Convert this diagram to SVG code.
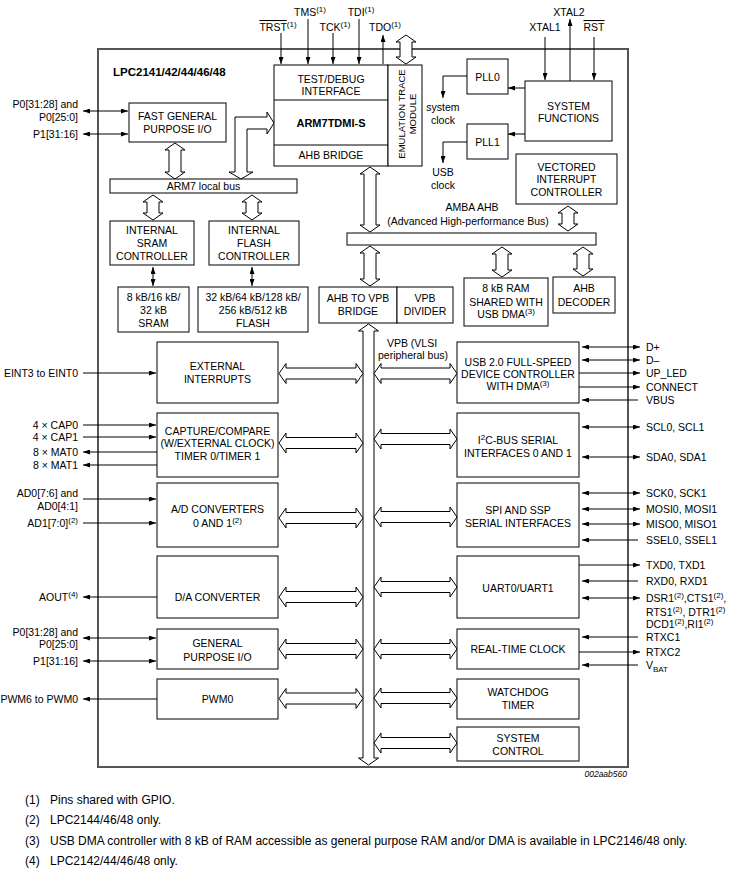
<svg xmlns="http://www.w3.org/2000/svg" xmlns:xlink="http://www.w3.org/1999/xlink" width="730" height="873" viewBox="0 0 730 873">
<style>
text{font-family:"Liberation Sans",Arial,Helvetica,sans-serif;font-size:10.5px;fill:#000}
.m{text-anchor:middle}
.e{text-anchor:end}
.b{font-weight:bold}
.box{fill:#fff;stroke:#000;stroke-width:1}
.bus{fill:#fff;stroke:#000;stroke-width:1}
.w{fill:none;stroke:#000;stroke-width:1}
.ol{text-decoration:overline}
.sup{font-size:8px}
.fn{font-size:12px}
</style>
<defs>
<marker id="a" viewBox="0 0 7 5" refX="7" refY="2.5" markerWidth="7" markerHeight="5" markerUnits="userSpaceOnUse" orient="auto-start-reverse"><path d="M0,0 L7,2.5 L0,5 z" fill="#000"/></marker>
<polygon id="hl" class="bus" points="279,0 286,-10 286,-5.5 356,-5.5 356,-10 363,0 356,10 356,5.5 286,5.5 286,10"/>
<polygon id="hr" class="bus" points="374,0 381,-10 381,-5.5 450,-5.5 450,-10 457,0 450,10 450,5.5 381,5.5 381,10"/>
</defs>
<rect width="730" height="873" fill="#fff"/>

<g id="chip">
<rect x="98" y="49" width="530" height="718" fill="none" stroke="#555" stroke-width="2"/>
<text x="113" y="76" class="b" style="font-size:11.5px">LPC2141/42/44/46/48</text>
</g>

<g id="connectors">
<!-- top pins -->
<line class="w" x1="281" y1="33" x2="281" y2="64" marker-end="url(#a)"/>
<line class="w" x1="308" y1="19" x2="308" y2="64" marker-end="url(#a)"/>
<line class="w" x1="333" y1="33" x2="333" y2="64" marker-end="url(#a)"/>
<line class="w" x1="359" y1="19" x2="359" y2="64" marker-end="url(#a)"/>
<line class="w" x1="383" y1="64" x2="383" y2="35" marker-end="url(#a)"/>
<line class="w" x1="545" y1="37" x2="545" y2="80" marker-end="url(#a)"/>
<line class="w" x1="570" y1="81" x2="570" y2="19" marker-end="url(#a)"/>
<line class="w" x1="594" y1="37" x2="594" y2="80" marker-end="url(#a)"/>
<line class="w" x1="525" y1="88" x2="508" y2="88" marker-end="url(#a)"/>
<line class="w" x1="525" y1="134" x2="508" y2="134" marker-end="url(#a)"/>
<polyline class="w" points="467,76 443,76 443,98" marker-end="url(#a)"/>
<polyline class="w" points="467,142 443,142 443,163" marker-end="url(#a)"/>
<line class="w" x1="153" y1="267" x2="153" y2="286" marker-start="url(#a)" marker-end="url(#a)"/>
<line class="w" x1="252" y1="267" x2="252" y2="286" marker-start="url(#a)" marker-end="url(#a)"/>
<!-- left pins -->
<line class="w" x1="83" y1="111" x2="128" y2="111" marker-start="url(#a)" marker-end="url(#a)"/>
<line class="w" x1="83" y1="134" x2="128" y2="134" marker-start="url(#a)" marker-end="url(#a)"/>
<line class="w" x1="83" y1="373" x2="156" y2="373" marker-end="url(#a)"/>
<line class="w" x1="83" y1="425" x2="156" y2="425" marker-end="url(#a)"/>
<line class="w" x1="83" y1="437" x2="156" y2="437" marker-end="url(#a)"/>
<line class="w" x1="157" y1="452" x2="83" y2="452" marker-end="url(#a)"/>
<line class="w" x1="157" y1="465" x2="83" y2="465" marker-end="url(#a)"/>
<line class="w" x1="83" y1="499" x2="156" y2="499" marker-end="url(#a)"/>
<line class="w" x1="83" y1="523" x2="156" y2="523" marker-end="url(#a)"/>
<line class="w" x1="157" y1="597" x2="83" y2="597" marker-end="url(#a)"/>
<line class="w" x1="83" y1="638" x2="156" y2="638" marker-start="url(#a)" marker-end="url(#a)"/>
<line class="w" x1="83" y1="661" x2="156" y2="661" marker-start="url(#a)" marker-end="url(#a)"/>
<line class="w" x1="157" y1="699" x2="83" y2="699" marker-end="url(#a)"/>
<!-- right pins -->
<line class="w" x1="582" y1="347" x2="640" y2="347" marker-start="url(#a)" marker-end="url(#a)"/>
<line class="w" x1="582" y1="360" x2="640" y2="360" marker-start="url(#a)" marker-end="url(#a)"/>
<line class="w" x1="579" y1="373" x2="640" y2="373" marker-end="url(#a)"/>
<line class="w" x1="579" y1="387" x2="640" y2="387" marker-end="url(#a)"/>
<line class="w" x1="638" y1="400" x2="582" y2="400" marker-end="url(#a)"/>
<line class="w" x1="582" y1="427" x2="640" y2="427" marker-start="url(#a)" marker-end="url(#a)"/>
<line class="w" x1="582" y1="457" x2="640" y2="457" marker-start="url(#a)" marker-end="url(#a)"/>
<line class="w" x1="582" y1="493" x2="640" y2="493" marker-start="url(#a)" marker-end="url(#a)"/>
<line class="w" x1="582" y1="509" x2="640" y2="509" marker-start="url(#a)" marker-end="url(#a)"/>
<line class="w" x1="582" y1="524" x2="640" y2="524" marker-start="url(#a)" marker-end="url(#a)"/>
<line class="w" x1="638" y1="540" x2="582" y2="540" marker-end="url(#a)"/>
<line class="w" x1="579" y1="565" x2="640" y2="565" marker-end="url(#a)"/>
<line class="w" x1="638" y1="581" x2="582" y2="581" marker-end="url(#a)"/>
<line class="w" x1="582" y1="598" x2="640" y2="598" marker-start="url(#a)" marker-end="url(#a)"/>
<line class="w" x1="638" y1="637" x2="582" y2="637" marker-end="url(#a)"/>
<line class="w" x1="579" y1="652" x2="640" y2="652" marker-end="url(#a)"/>
<line class="w" x1="638" y1="665" x2="582" y2="665" marker-end="url(#a)"/>
<!-- bus arrows -->
<polygon class="bus" points="406,35 416,42 412,42 412,57 416,57 406,64 396,57 400,57 400,42 396,42"/>
<polygon class="bus" points="175,143 185,150 181,150 181,172 185,172 175,179 165,172 169,172 169,150 165,150"/>
<path class="bus" d="M241,179 L229,172 L235,172 L235,117 L267,117 L267,112 L274,123 L267,134 L267,129 L247,129 L247,172 L253,172 Z"/>
<polygon class="bus" points="153,195 163,202 159,202 159,213 163,213 153,220 143,213 147,213 147,202 143,202"/>
<polygon class="bus" points="252,195 262,202 258,202 258,213 262,213 252,220 242,213 246,213 246,202 242,202"/>
<polygon class="bus" points="370,167 380,174 376,174 376,225 380,225 370,232 360,225 364,225 364,174 360,174"/>
<polygon class="bus" points="568,206 578,213 574,213 574,224 578,224 568,231 558,224 562,224 562,213 558,213"/>
<polygon class="bus" points="370,246 380,253 376,253 376,279 380,279 370,286 360,279 364,279 364,253 360,253"/>
<polygon class="bus" points="502,247 512,254 508,254 508,270 512,270 502,277 492,270 496,270 496,254 492,254"/>
<polygon class="bus" points="583,247 593,254 589,254 589,269 593,269 583,276 573,269 577,269 577,254 573,254"/>
<polygon id="vpb" class="bus" points="368.5,324 378.5,331 374,331 374,758 378.5,758 368.5,765 358.5,758 363,758 363,331 358.5,331"/>
<use xlink:href="#hl" href="#hl" y="373.5"/>
<use xlink:href="#hl" href="#hl" y="443"/>
<use xlink:href="#hl" href="#hl" y="518"/>
<use xlink:href="#hl" href="#hl" y="597"/>
<use xlink:href="#hl" href="#hl" y="649"/>
<use xlink:href="#hl" href="#hl" y="698.5"/>
<use xlink:href="#hr" href="#hr" y="373.5"/>
<use xlink:href="#hr" href="#hr" y="439"/>
<use xlink:href="#hr" href="#hr" y="517"/>
<use xlink:href="#hr" href="#hr" y="587"/>
<use xlink:href="#hr" href="#hr" y="649"/>
<use xlink:href="#hr" href="#hr" y="698"/>
<use xlink:href="#hr" href="#hr" y="743"/>
</g>

<g id="pin-labels">
<text x="278" y="31" class="m"><tspan class="ol">TRST</tspan><tspan class="sup" dy="-4">(1)</tspan></text>
<text x="310" y="16" class="m">TMS<tspan class="sup" dy="-4">(1)</tspan></text>
<text x="335" y="31" class="m">TCK<tspan class="sup" dy="-4">(1)</tspan></text>
<text x="361" y="16" class="m">TDI<tspan class="sup" dy="-4">(1)</tspan></text>
<text x="385" y="31" class="m">TDO<tspan class="sup" dy="-4">(1)</tspan></text>
<text x="545" y="31" class="m">XTAL1</text>
<text x="569" y="16" class="m">XTAL2</text>
<text x="594" y="31" class="m ol">RST</text>
<text x="443" y="111" class="m">system</text>
<text x="443" y="124" class="m">clock</text>
<text x="443" y="176" class="m">USB</text>
<text x="443" y="189" class="m">clock</text>
<text x="78" y="108" class="e">P0[31:28] and</text>
<text x="78" y="121" class="e">P0[25:0]</text>
<text x="78" y="138" class="e">P1[31:16]</text>
<text x="78" y="377" class="e">EINT3 to EINT0</text>
<text x="78" y="429" class="e">4 × CAP0</text>
<text x="78" y="441" class="e">4 × CAP1</text>
<text x="78" y="456" class="e">8 × MAT0</text>
<text x="78" y="469" class="e">8 × MAT1</text>
<text x="78" y="497" class="e">AD0[7:6] and</text>
<text x="78" y="510" class="e">AD0[4:1]</text>
<text x="78" y="527" class="e">AD1[7:0]<tspan class="sup" dy="-4">(2)</tspan></text>
<text x="78" y="601" class="e">AOUT<tspan class="sup" dy="-4">(4)</tspan></text>
<text x="78" y="636" class="e">P0[31:28] and</text>
<text x="78" y="648" class="e">P0[25:0]</text>
<text x="78" y="665" class="e">P1[31:16]</text>
<text x="78" y="703" class="e">PWM6 to PWM0</text>
<text x="646" y="351">D+</text>
<text x="646" y="364">D–</text>
<text x="646" y="377">UP_LED</text>
<text x="646" y="391">CONNECT</text>
<text x="646" y="404">VBUS</text>
<text x="646" y="431">SCL0, SCL1</text>
<text x="646" y="461">SDA0, SDA1</text>
<text x="646" y="497">SCK0, SCK1</text>
<text x="646" y="513">MOSI0, MOSI1</text>
<text x="646" y="528">MISO0, MISO1</text>
<text x="646" y="544">SSEL0, SSEL1</text>
<text x="646" y="569">TXD0, TXD1</text>
<text x="646" y="585">RXD0, RXD1</text>
<text x="646" y="602">DSR1<tspan class="sup" dy="-4">(2)</tspan><tspan dy="4">,CTS1</tspan><tspan class="sup" dy="-4">(2)</tspan><tspan dy="4">,</tspan></text>
<text x="646" y="616">RTS1<tspan class="sup" dy="-4">(2)</tspan><tspan dy="4">, DTR1</tspan><tspan class="sup" dy="-4">(2)</tspan></text>
<text x="646" y="628">DCD1<tspan class="sup" dy="-4">(2)</tspan><tspan dy="4">,RI1</tspan><tspan class="sup" dy="-4">(2)</tspan></text>
<text x="646" y="641">RTXC1</text>
<text x="646" y="656">RTXC2</text>
<text x="646" y="669">V<tspan style="font-size:8px" dy="3">BAT</tspan></text>
<text x="472" y="211" class="m">AMBA AHB</text>
<text x="468" y="225" class="m">(Advanced High-performance Bus)</text>
<text x="412" y="347" class="m">VPB (VLSI</text>
<text x="413" y="359" class="m">peripheral bus)</text>
</g>

<g id="test-debug">
<rect class="box" x="274" y="65" width="114" height="101"/>
<line class="w" x1="274" y1="100" x2="388" y2="100"/>
<line class="w" x1="274" y1="145" x2="388" y2="145"/>
<text x="331" y="83" class="m">TEST/DEBUG</text>
<text x="331" y="95" class="m">INTERFACE</text>
<text x="331" y="127" class="m b" style="font-size:11px">ARM7TDMI-S</text>
<text x="331" y="159" class="m">AHB BRIDGE</text>
</g>
<g id="emulation-trace">
<rect class="box" x="388" y="65" width="34" height="101"/>
<text class="m" style="font-size:9.5px" transform="translate(404.5,114) rotate(-90)">EMULATION TRACE</text>
<text class="m" style="font-size:9.5px" transform="translate(416,114) rotate(-90)">MODULE</text>
</g>
<g id="pll0"><rect class="box" x="467" y="59" width="41" height="35"/><text x="487.5" y="81" class="m">PLL0</text></g>
<g id="pll1"><rect class="box" x="467" y="124" width="41" height="35"/><text x="487.5" y="146" class="m">PLL1</text></g>
<g id="system-functions"><rect class="box" x="525" y="81" width="87" height="60"/><text x="568.5" y="110" class="m">SYSTEM</text><text x="568.5" y="122" class="m">FUNCTIONS</text></g>
<g id="vic"><rect class="box" x="516" y="154" width="101" height="50"/><text x="566.5" y="171" class="m">VECTORED</text><text x="566.5" y="183" class="m">INTERRUPT</text><text x="566.5" y="196" class="m">CONTROLLER</text></g>
<g id="fast-gpio"><rect class="box" x="129" y="103" width="97" height="39"/><text x="177.5" y="120" class="m">FAST GENERAL</text><text x="177.5" y="133" class="m">PURPOSE I/O</text></g>
<g id="arm7-local-bus"><rect class="box" x="110" y="179" width="187" height="14"/><text x="203.5" y="190" class="m">ARM7 local bus</text></g>
<g id="sram-controller"><rect class="box" x="110" y="221" width="84" height="44"/><text x="152" y="234" class="m">INTERNAL</text><text x="152" y="247" class="m">SRAM</text><text x="152" y="260" class="m">CONTROLLER</text></g>
<g id="flash-controller"><rect class="box" x="209" y="221" width="90" height="44"/><text x="254" y="234" class="m">INTERNAL</text><text x="254" y="247" class="m">FLASH</text><text x="254" y="260" class="m">CONTROLLER</text></g>
<g id="sram"><rect class="box" x="118" y="287" width="71" height="45"/><text x="153.5" y="301" class="m">8 kB/16 kB/</text><text x="153.5" y="314" class="m">32  kB</text><text x="153.5" y="327" class="m">SRAM</text></g>
<g id="flash"><rect class="box" x="198" y="287" width="110" height="45"/><text x="253" y="301" class="m">32 kB/64 kB/128 kB/</text><text x="253" y="314" class="m">256 kB/512 kB</text><text x="253" y="327" class="m">FLASH</text></g>
<g id="amba-ahb"><rect class="box" x="347" y="233" width="249" height="12"/></g>
<g id="ahb-vpb-bridge"><rect class="box" x="319" y="287" width="78" height="36"/><text x="358" y="302" class="m">AHB TO VPB</text><text x="358" y="315" class="m">BRIDGE</text></g>
<g id="vpb-divider"><rect class="box" x="397" y="287" width="56" height="36"/><text x="425" y="302" class="m">VPB</text><text x="425" y="315" class="m">DIVIDER</text></g>
<g id="usb-ram"><rect class="box" x="464" y="278" width="84" height="48"/><text x="506" y="292" class="m">8 kB RAM</text><text x="506" y="306" class="m">SHARED WITH</text><text x="506" y="318" class="m">USB DMA<tspan class="sup" dy="-4">(3)</tspan></text></g>
<g id="ahb-decoder"><rect class="box" x="553" y="277" width="62" height="36"/><text x="584" y="292" class="m">AHB</text><text x="584" y="306" class="m">DECODER</text></g>

<g id="external-interrupts"><rect class="box" x="157" y="342" width="121" height="61"/><text x="217.5" y="370" class="m">EXTERNAL</text><text x="217.5" y="383" class="m">INTERRUPTS</text></g>
<g id="capture-compare"><rect class="box" x="157" y="413" width="121" height="64"/><text x="217.5" y="435" class="m">CAPTURE/COMPARE</text><text x="217.5" y="447" class="m">(W/EXTERNAL CLOCK)</text><text x="217.5" y="460" class="m">TIMER 0/TIMER 1</text></g>
<g id="adc"><rect class="box" x="157" y="483" width="121" height="64"/><text x="217.5" y="513" class="m">A/D CONVERTERS</text><text x="217.5" y="527" class="m">0 AND 1<tspan class="sup" dy="-4">(2)</tspan></text></g>
<g id="dac"><rect class="box" x="157" y="556" width="121" height="62"/><text x="217.5" y="601" class="m">D/A CONVERTER</text></g>
<g id="gpio"><rect class="box" x="157" y="629" width="121" height="40"/><text x="217.5" y="647" class="m">GENERAL</text><text x="217.5" y="661" class="m">PURPOSE I/O</text></g>
<g id="pwm0"><rect class="box" x="157" y="679" width="121" height="40"/><text x="217.5" y="703" class="m">PWM0</text></g>

<g id="usb"><rect class="box" x="457" y="342" width="122" height="61"/><text x="518" y="366" class="m">USB 2.0 FULL-SPEED</text><text x="518" y="378" class="m">DEVICE CONTROLLER</text><text x="518" y="390" class="m">WITH DMA<tspan class="sup" dy="-4">(3)</tspan></text></g>
<g id="i2c"><rect class="box" x="457" y="413" width="122" height="64"/><text x="518" y="444" class="m">I<tspan class="sup" dy="-4">2</tspan><tspan dy="4">C-BUS SERIAL</tspan></text><text x="518" y="457" class="m">INTERFACES 0 AND 1</text></g>
<g id="spi-ssp"><rect class="box" x="457" y="483" width="122" height="64"/><text x="518" y="514" class="m">SPI AND SSP</text><text x="518" y="527" class="m">SERIAL INTERFACES</text></g>
<g id="uart"><rect class="box" x="457" y="556" width="122" height="62"/><text x="518" y="592" class="m">UART0/UART1</text></g>
<g id="rtc"><rect class="box" x="457" y="629" width="122" height="40"/><text x="518" y="653" class="m">REAL-TIME CLOCK</text></g>
<g id="watchdog"><rect class="box" x="457" y="679" width="122" height="40"/><text x="518" y="696" class="m">WATCHDOG</text><text x="518" y="709" class="m">TIMER</text></g>
<g id="system-control"><rect class="box" x="457" y="727" width="122" height="34"/><text x="518" y="742" class="m">SYSTEM</text><text x="518" y="755" class="m">CONTROL</text></g>

<g id="notes">
<text x="627" y="777" class="e" style="font-size:8.5px;font-style:italic">002aab560</text>
<text x="25" y="804" class="fn">(1)</text><text x="50" y="804" class="fn">Pins shared with GPIO.</text>
<text x="25" y="824" class="fn">(2)</text><text x="50" y="824" class="fn">LPC2144/46/48 only.</text>
<text x="25" y="845" class="fn">(3)</text><text x="50" y="845" class="fn">USB DMA controller with 8 kB of RAM accessible as general purpose RAM and/or DMA is available in LPC2146/48 only.</text>
<text x="25" y="865" class="fn">(4)</text><text x="50" y="865" class="fn">LPC2142/44/46/48 only.</text>
</g>
</svg>
